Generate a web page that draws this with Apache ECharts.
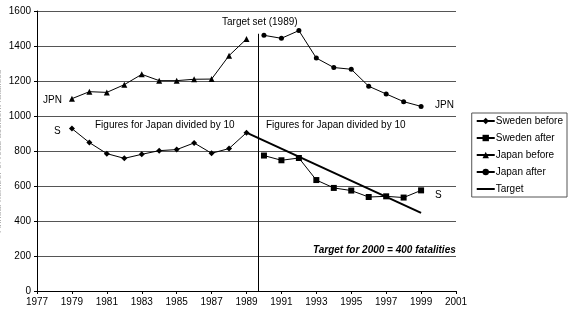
<!DOCTYPE html>
<html>
<head>
<meta charset="utf-8">
<script src="https://cdn.jsdelivr.net/npm/echarts@6/dist/echarts.min.js"></script>
<style>
  html, body { margin: 0; padding: 0; background: #fff; }
  #chart { width: 569px; height: 314px; }
</style>
</head>
<body>
<div id="chart"></div>
<script>
// years
var yearsBefore = [1979, 1980, 1981, 1982, 1983, 1984, 1985, 1986, 1987, 1988, 1989];
var yearsAfter = [1990, 1991, 1992, 1993, 1994, 1995, 1996, 1997, 1998, 1999];

// Sweden fatalities
var swedenBefore = [928, 848, 785, 758, 781, 802, 808, 846, 787, 814, 905];
var swedenAfter = [774, 747, 760, 634, 589, 574, 537, 541, 534, 575];

// Japan fatalities divided by 10
var japanBefore = [1099, 1139, 1135, 1179, 1238, 1202, 1202, 1210, 1211, 1345, 1440];
var japanAfter = [1461, 1444, 1488, 1331, 1277, 1267, 1170, 1126, 1082, 1055];

// target line
var targetYears = [1989, 1999];
var targetValues = [905, 446];

// the year the target was set (line drawn between 1989 and 1990)
var targetSetX = 1989.65;
var targetSetTop = 1470;

function pairs(xs, ys) {
    return xs.map(function (x, i) { return [x, ys[i]]; });
}

var FONT = 'Liberation Sans, Arial, sans-serif';
var myChart = echarts.init(document.getElementById('chart'));

var lineBase = {
    type: 'line',
    symbolSize: 6,
    lineStyle: { color: '#000', width: 1 },
    itemStyle: { color: '#000' },
    animation: false
};

myChart.setOption({
    backgroundColor: '#fff',
    textStyle: { fontFamily: FONT },
    grid: { left: 37, right: 113, top: 11, bottom: 23, containLabel: false, outerBoundsMode: 'none' },
    legend: {
        orient: 'vertical',
        right: 2,
        top: 113,
        itemWidth: 18,
        itemHeight: 8,
        itemGap: 7,
        padding: [3, 4, 3, 4],
        borderColor: '#555',
        borderWidth: 1,
        textStyle: { fontSize: 10, color: '#000', fontFamily: FONT, padding: [0, 0, 0, -4] },
        data: [
            'Sweden before', 'Sweden after', 'Japan before', 'Japan after',
            { name: 'Target', icon: 'path://M0,0 L18,0 L18,2 L0,2 Z' }
        ]
    },
    xAxis: {
        type: 'value',
        min: 1977,
        max: 2001,
        interval: 2,
        axisLine: { lineStyle: { color: '#000' } },
        axisTick: { show: true, length: 3, lineStyle: { color: '#000' } },
        axisLabel: { color: '#000', fontSize: 10, fontFamily: FONT, margin: 6, formatter: function (v) { return String(v); } },
        splitLine: { show: false }
    },
    yAxis: {
        type: 'value',
        min: 0,
        max: 1600,
        interval: 200,
        name: 'Annual number of road accident fatalities',
        nameLocation: 'middle',
        nameGap: 34,
        nameMoveOverlap: false,
        nameTextStyle: { color: '#b0b0b0', fontSize: 9, fontFamily: FONT },
        axisLine: { show: true, lineStyle: { color: '#000' } },
        axisTick: { show: true, length: 3, lineStyle: { color: '#000' } },
        axisLabel: { color: '#000', fontSize: 10, fontFamily: FONT, margin: 6, formatter: function (v) { return String(v); } },
        splitLine: { show: true, lineStyle: { color: '#555', width: 1 } }
    },
    series: [
        Object.assign({}, lineBase, {
            name: 'Sweden before',
            symbol: 'diamond',
            symbolSize: 6,
            data: pairs(yearsBefore, swedenBefore),
            markLine: {
                silent: true,
                symbol: 'none',
                label: { show: false },
                lineStyle: { color: '#000', width: 1, type: 'solid' },
                data: [[{ coord: [targetSetX, 0] }, { coord: [targetSetX, targetSetTop] }]]
            }
        }),
        Object.assign({}, lineBase, {
            name: 'Sweden after',
            symbol: 'rect',
            symbolSize: 6,
            data: pairs(yearsAfter, swedenAfter)
        }),
        Object.assign({}, lineBase, {
            name: 'Japan before',
            symbol: 'triangle',
            symbolSize: 6,
            data: pairs(yearsBefore, japanBefore)
        }),
        Object.assign({}, lineBase, {
            name: 'Japan after',
            symbol: 'circle',
            symbolSize: 5,
            data: pairs(yearsAfter, japanAfter)
        }),
        Object.assign({}, lineBase, {
            name: 'Target',
            symbol: 'none',
            showSymbol: false,
            lineStyle: { color: '#000', width: 2 },
            data: pairs(targetYears, targetValues)
        })
    ],
    graphic: [
        { type: 'text', left: 222, top: 17, style: { text: 'Target set (1989)', font: '10px ' + FONT, fill: '#000' } },
        { type: 'text', left: 43, top: 95, style: { text: 'JPN', font: '10px ' + FONT, fill: '#000' } },
        { type: 'text', left: 54, top: 126, style: { text: 'S', font: '10px ' + FONT, fill: '#000' } },
        { type: 'text', left: 95, top: 120, style: { text: 'Figures for Japan divided by 10', font: '10px ' + FONT, fill: '#000' } },
        { type: 'text', left: 266, top: 120, style: { text: 'Figures for Japan divided by 10', font: '10px ' + FONT, fill: '#000' } },
        { type: 'text', left: 435, top: 100, style: { text: 'JPN', font: '10px ' + FONT, fill: '#000' } },
        { type: 'text', left: 435, top: 190, style: { text: 'S', font: '10px ' + FONT, fill: '#000' } },
        { type: 'text', left: 313, top: 245, style: { text: 'Target for 2000 = 400 fatalities', font: 'italic bold 10px ' + FONT, fill: '#000' } }
    ]
});
</script>
</body>
</html>
